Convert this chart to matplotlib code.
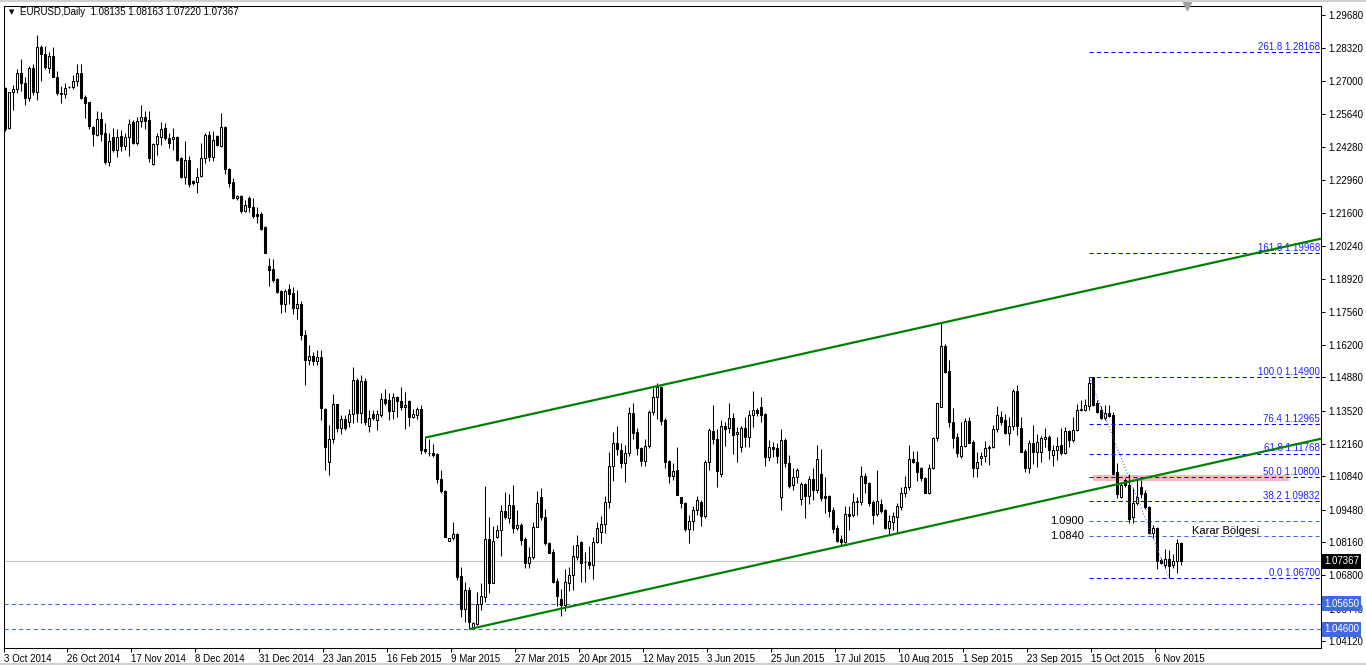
import numpy as np
import matplotlib.pyplot as plt
from matplotlib.lines import Line2D
from matplotlib.patches import Rectangle

plt.rcParams['font.family'] = ['Liberation Sans', 'DejaVu Sans']

# ---- daily candles, EURUSD (bar index = position on chart) ----
opens = [
    1.2669, 1.2508, 1.2652, 1.2665, 1.2730, 1.2689, 1.2628, 1.2750, 1.2655, 1.2839,
    1.2809, 1.2750, 1.2801, 1.2714, 1.2651, 1.2644, 1.2672, 1.2673, 1.2699, 1.2730,
    1.2635, 1.2612, 1.2512, 1.2478, 1.2542, 1.2485, 1.2369, 1.2469, 1.2417, 1.2474,
    1.2435, 1.2471, 1.2530, 1.2447, 1.2535, 1.2550, 1.2539, 1.2358, 1.2440, 1.2471,
    1.2506, 1.2467, 1.2461, 1.2471, 1.2383, 1.2308, 1.2376, 1.2290, 1.2288, 1.2312,
    1.2383, 1.2478, 1.2390, 1.2474, 1.2433, 1.2512, 1.2338, 1.2285, 1.2220, 1.2229,
    1.2169, 1.2222, 1.2182, 1.2156, 1.2156, 1.2104, 1.1943, 1.1930, 1.1889, 1.1839,
    1.1788, 1.1849, 1.1832, 1.1771, 1.1788, 1.1660, 1.1560, 1.1575, 1.1555, 1.1570,
    1.1358, 1.1144, 1.1235, 1.1379, 1.1283, 1.1317, 1.1307, 1.1339, 1.1477, 1.1341,
    1.1475, 1.1291, 1.1337, 1.1314, 1.1334, 1.1398, 1.1396, 1.1352, 1.1407, 1.1393,
    1.1366, 1.1390, 1.1328, 1.1334, 1.1358, 1.1194, 1.1180, 1.1178, 1.1175, 1.1072,
    1.1024, 1.0821, 1.0831, 1.0849, 1.0677, 1.0541, 1.0620, 1.0470, 1.0481, 1.0563,
    1.0593, 1.0827, 1.0650, 1.0835, 1.0865, 1.0944, 1.0913, 1.0967, 1.0872, 1.0885,
    1.0828, 1.0729, 1.0756, 1.0879, 1.0998, 1.0917, 1.0810, 1.0776, 1.0658, 1.0582,
    1.0559, 1.0650, 1.0681, 1.0756, 1.0817, 1.0736, 1.0736, 1.0722, 1.0817, 1.0858,
    1.0888, 1.0981, 1.1126, 1.1219, 1.1192, 1.1140, 1.1181, 1.1341, 1.1264, 1.1198,
    1.1148, 1.1209, 1.1348, 1.1407, 1.1447, 1.1314, 1.1147, 1.1087, 1.1110, 1.0998,
    1.0977, 1.0868, 1.0902, 1.0947, 1.0981, 1.0922, 1.1144, 1.1269, 1.1235, 1.1094,
    1.1290, 1.1280, 1.1321, 1.1256, 1.1205, 1.1280, 1.1243, 1.1334, 1.1355, 1.1369,
    1.1339, 1.1162, 1.1205, 1.1198, 1.1001, 1.1232, 1.1137, 1.1049, 1.1080, 1.0990,
    1.1053, 1.1004, 1.1072, 1.1028, 1.1094, 1.1004, 1.1004, 1.0947, 1.0872, 1.0827,
    1.0817, 1.0929, 1.0926, 1.0978, 1.0978, 1.1086, 1.1058, 1.0981, 1.0929, 1.0971,
    1.0947, 1.0875, 1.0899, 1.0919, 1.0960, 1.1017, 1.1040, 1.1153, 1.1144, 1.1117,
    1.1076, 1.1017, 1.1117, 1.1239, 1.1368, 1.1616, 1.1514, 1.1307, 1.1246, 1.1167,
    1.1208, 1.1310, 1.1225, 1.1117, 1.1161, 1.1167, 1.1198, 1.1202, 1.1276, 1.1327,
    1.1314, 1.1262, 1.1289, 1.1434, 1.1280, 1.1189, 1.1117, 1.1221, 1.1185, 1.1185,
    1.1238, 1.1243, 1.1171, 1.1191, 1.1212, 1.1181, 1.1270, 1.1232, 1.1273, 1.1355,
    1.1355, 1.1371, 1.1488, 1.1382, 1.1357, 1.1321, 1.1341, 1.1334, 1.1103, 1.0998,
    1.1069, 1.1048, 1.0919, 1.0976, 1.1042, 1.1017, 1.0957, 1.0854, 1.0872, 1.0742,
    1.0722, 1.0745, 1.0722, 1.0740, 1.08135,
]
highs = [
    1.2676, 1.2655, 1.2682, 1.2746, 1.2787, 1.2714, 1.2760, 1.2768, 1.2887, 1.2847,
    1.2842, 1.2816, 1.2836, 1.2738, 1.2678, 1.2689, 1.2678, 1.2721, 1.2767, 1.2767,
    1.2640, 1.2612, 1.2515, 1.2578, 1.2572, 1.2529, 1.2485, 1.2506, 1.2503, 1.2499,
    1.2485, 1.2542, 1.2539, 1.2550, 1.2601, 1.2574, 1.2574, 1.2444, 1.2485, 1.2530,
    1.2526, 1.2485, 1.2506, 1.2474, 1.2390, 1.2454, 1.2393, 1.2295, 1.2342, 1.2444,
    1.2485, 1.2496, 1.2496, 1.2478, 1.2567, 1.2515, 1.2342, 1.2301, 1.2233, 1.2231,
    1.2213, 1.2227, 1.2220, 1.2186, 1.2165, 1.2107, 1.1975, 1.1971, 1.1893, 1.1845,
    1.1848, 1.1870, 1.1859, 1.1845, 1.1800, 1.1680, 1.1620, 1.1590, 1.1600, 1.1600,
    1.1365, 1.1294, 1.1420, 1.1379, 1.1334, 1.1334, 1.1358, 1.1532, 1.1484, 1.1498,
    1.1484, 1.1355, 1.1355, 1.1355, 1.1423, 1.1439, 1.1423, 1.1423, 1.1412, 1.1447,
    1.1430, 1.1396, 1.1358, 1.1366, 1.1375, 1.1242, 1.1236, 1.1216, 1.1180, 1.1110,
    1.1028, 1.0833, 1.0899, 1.0851, 1.0715, 1.0654, 1.0631, 1.0491, 1.0613, 1.0650,
    1.1045, 1.0919, 1.0881, 1.0885, 1.0967, 1.1021, 1.1012, 1.1049, 1.0947, 1.0892,
    1.0835, 1.0794, 1.0899, 1.1025, 1.1035, 1.0949, 1.0817, 1.0786, 1.0668, 1.0623,
    1.0704, 1.0715, 1.0804, 1.0844, 1.0821, 1.0776, 1.0800, 1.0838, 1.0899, 1.0922,
    1.1004, 1.1185, 1.1264, 1.1290, 1.1219, 1.1212, 1.1366, 1.1385, 1.1283, 1.1205,
    1.1235, 1.1355, 1.1443, 1.1464, 1.1453, 1.1321, 1.1151, 1.1137, 1.1202, 1.1001,
    1.0981, 1.0926, 1.0963, 1.1004, 1.0988, 1.1151, 1.1280, 1.1375, 1.1276, 1.1314,
    1.1307, 1.1385, 1.1344, 1.1287, 1.1290, 1.1328, 1.1355, 1.1434, 1.1362, 1.1409,
    1.1341, 1.1232, 1.1226, 1.1219, 1.1276, 1.1239, 1.1171, 1.1117, 1.1117, 1.1062,
    1.1058, 1.1086, 1.1117, 1.1212, 1.1194, 1.1080, 1.1008, 1.0958, 1.0885, 1.0845,
    1.0963, 1.0963, 1.1017, 1.1001, 1.1126, 1.1099, 1.1062, 1.0988, 1.1110, 1.0990,
    1.0949, 1.0926, 1.0940, 1.0974, 1.1042, 1.1087, 1.1212, 1.1189, 1.1189, 1.1123,
    1.1083, 1.1134, 1.1243, 1.1385, 1.1710, 1.1624, 1.1559, 1.1362, 1.1262, 1.1307,
    1.1321, 1.1325, 1.1232, 1.1185, 1.1185, 1.1229, 1.1212, 1.1293, 1.1371, 1.1352,
    1.1338, 1.1327, 1.1439, 1.1457, 1.1327, 1.1194, 1.1232, 1.1293, 1.1257, 1.1248,
    1.1280, 1.1253, 1.1212, 1.1243, 1.1280, 1.1284, 1.1273, 1.1325, 1.1379, 1.1396,
    1.1402, 1.1490, 1.1488, 1.1396, 1.1371, 1.1375, 1.1375, 1.1348, 1.1137, 1.1062,
    1.1076, 1.1093, 1.1035, 1.1076, 1.1069, 1.1028, 1.0963, 1.0885, 1.0878, 1.0749,
    1.0786, 1.0783, 1.0769, 1.0827, 1.08163,
]
lows = [
    1.2496, 1.2501, 1.2580, 1.2648, 1.2659, 1.2601, 1.2618, 1.2642, 1.2621, 1.2700,
    1.2746, 1.2730, 1.2714, 1.2642, 1.2610, 1.2631, 1.2669, 1.2665, 1.2678, 1.2624,
    1.2546, 1.2501, 1.2433, 1.2474, 1.2455, 1.2360, 1.2352, 1.2410, 1.2390, 1.2414,
    1.2417, 1.2393, 1.2442, 1.2437, 1.2510, 1.2501, 1.2369, 1.2356, 1.2397, 1.2437,
    1.2458, 1.2424, 1.2417, 1.2373, 1.2301, 1.2277, 1.2267, 1.2274, 1.2243, 1.2308,
    1.2363, 1.2373, 1.2372, 1.2433, 1.2428, 1.2319, 1.2265, 1.2217, 1.2213, 1.2161,
    1.2165, 1.2165, 1.2138, 1.2120, 1.2091, 1.1998, 1.1862, 1.1879, 1.1832, 1.1750,
    1.1757, 1.1788, 1.1747, 1.1726, 1.1640, 1.1457, 1.1539, 1.1539, 1.1539, 1.1314,
    1.1110, 1.1089, 1.1219, 1.1266, 1.1257, 1.1273, 1.1287, 1.1303, 1.1307, 1.1300,
    1.1294, 1.1266, 1.1314, 1.1273, 1.1328, 1.1375, 1.1314, 1.1317, 1.1328, 1.1355,
    1.1276, 1.1289, 1.1321, 1.1317, 1.1175, 1.1181, 1.1167, 1.1164, 1.1055, 1.1017,
    1.0835, 1.0819, 1.0824, 1.0661, 1.0508, 1.0491, 1.0460, 1.0465, 1.0477, 1.0538,
    1.0572, 1.0609, 1.0647, 1.0831, 1.0759, 1.0908, 1.0892, 1.0851, 1.0865, 1.0804,
    1.0708, 1.0708, 1.0745, 1.0876, 1.0906, 1.0804, 1.0770, 1.0650, 1.0555, 1.0514,
    1.0536, 1.0617, 1.0620, 1.0742, 1.0654, 1.0654, 1.0704, 1.0663, 1.0810, 1.0813,
    1.0851, 1.0953, 1.1066, 1.1171, 1.1117, 1.1062, 1.1168, 1.1235, 1.1171, 1.1128,
    1.1128, 1.1198, 1.1334, 1.1317, 1.1294, 1.1117, 1.1058, 1.1069, 1.1008, 1.0953,
    1.0862, 1.0813, 1.0865, 1.0926, 1.0881, 1.0913, 1.1110, 1.1216, 1.1042, 1.1080,
    1.1208, 1.1262, 1.1175, 1.1144, 1.1185, 1.1205, 1.1202, 1.1287, 1.1330, 1.1307,
    1.1126, 1.1148, 1.1164, 1.1137, 1.0947, 1.1121, 1.1035, 1.1028, 1.1058, 1.0967,
    1.0913, 1.0971, 1.0988, 1.1017, 1.0985, 1.0933, 1.0920, 1.0851, 1.0817, 1.0800,
    1.0811, 1.0865, 1.0917, 1.0926, 1.0967, 1.1017, 1.0963, 1.0890, 1.0922, 1.0933,
    1.0868, 1.0845, 1.0865, 1.0851, 1.0946, 1.0998, 1.1028, 1.1140, 1.1066, 1.1066,
    1.1015, 1.1014, 1.1113, 1.1229, 1.1366, 1.1507, 1.1287, 1.1198, 1.1164, 1.1161,
    1.1202, 1.1219, 1.1083, 1.1083, 1.1130, 1.1144, 1.1130, 1.1198, 1.1266, 1.1293,
    1.1257, 1.1212, 1.1273, 1.1253, 1.1183, 1.1103, 1.1099, 1.1134, 1.1123, 1.1144,
    1.1202, 1.1157, 1.1126, 1.1151, 1.1171, 1.1175, 1.1205, 1.1225, 1.1270, 1.1352,
    1.1353, 1.1355, 1.1371, 1.1341, 1.1317, 1.1314, 1.1325, 1.1089, 1.0994, 1.0994,
    1.1042, 1.0892, 1.0895, 1.0967, 1.0994, 1.0949, 1.0848, 1.0831, 1.0704, 1.0726,
    1.0708, 1.0670, 1.0708, 1.0688, 1.07220,
]
closes = [
    1.2501, 1.2655, 1.2665, 1.2730, 1.2689, 1.2628, 1.2750, 1.2655, 1.2836, 1.2809,
    1.2755, 1.2801, 1.2714, 1.2648, 1.2644, 1.2669, 1.2673, 1.2699, 1.2730, 1.2631,
    1.2610, 1.2516, 1.2482, 1.2542, 1.2482, 1.2367, 1.2454, 1.2417, 1.2471, 1.2433,
    1.2471, 1.2522, 1.2447, 1.2535, 1.2550, 1.2537, 1.2386, 1.2440, 1.2474, 1.2503,
    1.2465, 1.2447, 1.2469, 1.2376, 1.2308, 1.2376, 1.2278, 1.2284, 1.2308, 1.2383,
    1.2478, 1.2387, 1.2458, 1.2437, 1.2510, 1.2338, 1.2284, 1.2222, 1.2229, 1.2168,
    1.2192, 1.2186, 1.2149, 1.2149, 1.2095, 1.1998, 1.1927, 1.1884, 1.1836, 1.1788,
    1.1841, 1.1829, 1.1771, 1.1788, 1.1660, 1.1560, 1.1575, 1.1555, 1.1570, 1.1362,
    1.1202, 1.1235, 1.1379, 1.1283, 1.1317, 1.1280, 1.1339, 1.1477, 1.1341, 1.1475,
    1.1307, 1.1321, 1.1321, 1.1337, 1.1398, 1.1385, 1.1352, 1.1407, 1.1393, 1.1366,
    1.1375, 1.1328, 1.1339, 1.1358, 1.1192, 1.1189, 1.1178, 1.1171, 1.1072, 1.1025,
    1.0838, 1.0831, 1.0849, 1.0674, 1.0541, 1.0620, 1.0491, 1.0484, 1.0563, 1.0595,
    1.0827, 1.0650, 1.0820, 1.0865, 1.0944, 1.0917, 1.0967, 1.0872, 1.0885, 1.0824,
    1.0729, 1.0756, 1.0879, 1.0974, 1.0917, 1.0810, 1.0772, 1.0654, 1.0595, 1.0559,
    1.0654, 1.0681, 1.0759, 1.0804, 1.0731, 1.0735, 1.0722, 1.0817, 1.0872, 1.0888,
    1.0981, 1.1126, 1.1219, 1.1194, 1.1140, 1.1181, 1.1341, 1.1262, 1.1198, 1.1148,
    1.1209, 1.1348, 1.1407, 1.1447, 1.1311, 1.1144, 1.1087, 1.1107, 1.1008, 1.0974,
    1.0868, 1.0902, 1.0947, 1.0988, 1.0922, 1.1144, 1.1273, 1.1235, 1.1107, 1.1290,
    1.1279, 1.1321, 1.1253, 1.1264, 1.1280, 1.1243, 1.1334, 1.1355, 1.1344, 1.1334,
    1.1162, 1.1202, 1.1197, 1.1168, 1.1232, 1.1137, 1.1046, 1.1080, 1.1110, 1.1053,
    1.1004, 1.1072, 1.1028, 1.1153, 1.0994, 1.0994, 1.0944, 1.0868, 1.0821, 1.0817,
    1.0929, 1.0922, 1.0978, 1.0983, 1.1086, 1.1056, 1.0977, 1.0926, 1.0983, 1.0944,
    1.0875, 1.0902, 1.0922, 1.0963, 1.1017, 1.1042, 1.1153, 1.1144, 1.1103, 1.1076,
    1.1017, 1.1117, 1.1239, 1.1382, 1.1616, 1.1511, 1.1307, 1.1242, 1.1178, 1.1208,
    1.1310, 1.1221, 1.1117, 1.1144, 1.1168, 1.1198, 1.1205, 1.1276, 1.1334, 1.1307,
    1.1262, 1.1289, 1.1434, 1.1289, 1.1185, 1.1117, 1.1221, 1.1185, 1.1225, 1.1239,
    1.1243, 1.1191, 1.1191, 1.1208, 1.1181, 1.1270, 1.1232, 1.1273, 1.1355, 1.1361,
    1.1375, 1.1466, 1.1375, 1.1348, 1.1321, 1.1341, 1.1330, 1.1093, 1.1014, 1.1048,
    1.1048, 1.0912, 1.0976, 1.1001, 1.1014, 1.0957, 1.0854, 1.0872, 1.0740, 1.0731,
    1.0745, 1.0718, 1.0740, 1.0810, 1.07367,
]

date_labels = ['3 Oct 2014', '26 Oct 2014', '17 Nov 2014', '8 Dec 2014', '31 Dec 2014',
               '23 Jan 2015', '16 Feb 2015', '9 Mar 2015', '27 Mar 2015', '20 Apr 2015',
               '12 May 2015', '3 Jun 2015', '25 Jun 2015', '17 Jul 2015', '10 Aug 2015',
               '1 Sep 2015', '23 Sep 2015', '15 Oct 2015', '6 Nov 2015']
date_bars = [-0.25, 15.5, 31.5, 47.5, 63.5, 79.5, 95.5, 111.5, 127.5, 143.5,
             159.5, 175.5, 191.5, 207.5, 223.5, 239.5, 255.5, 271.5, 287.5]

price_ticks = [1.29680, 1.28320, 1.27000, 1.25640, 1.24280, 1.22960, 1.21600, 1.20240,
               1.18920, 1.17560, 1.16200, 1.14880, 1.13520, 1.12160, 1.10840, 1.09480,
               1.08160, 1.06800, 1.05440, 1.04120]

# channel trend lines: (bar, price) anchors, drawn as rays
upper_line = [(105, 1.1242), (234, 1.1710)]
lower_line = [(116, 1.0460), (205, 1.0785)]

# fibonacci retracement
fib_levels = [0.0, 38.2, 50.0, 61.8, 76.4, 100.0, 161.8, 261.8]
fib_start, fib_high = 271, 1.1490
fib_end, fib_low = 291, 1.0670

support_lines = [1.0565, 1.0460]
marked_levels = [1.0900, 1.0840]
zone_bars = (272, 321)
zone_prices = (1.1066, 1.1090)
last_price = 1.07367

# ---- figure ----
W, H = 1366, 665
fig = plt.figure(figsize=(W / 100, H / 100), dpi=100)
ax = fig.add_axes([4 / W, 17 / H, 1317 / W, 642 / H])
x_right = 329
ax.set_xlim(-0.25, x_right)
ax.set_ylim(1.03833, 1.30047)

o = np.array(opens); h = np.array(highs); l = np.array(lows); c = np.array(closes)
x = np.arange(len(o))
up = c >= o
lo = np.minimum(o, c)
ht = np.abs(c - o)

ax.vlines(x, l, h, color='black', lw=0.75, zorder=3)
ax.bar(x[up], ht[up], bottom=lo[up], width=0.5, color='white', edgecolor='black', lw=0.75, zorder=4)
ax.bar(x[~up], ht[~up], bottom=lo[~up], width=0.5, color='black', edgecolor='black', lw=0.75, zorder=4)

dash = (0, (4, 3))
blue = '#0000ff'
royal = '#3f6ae6'

# decision zone
ax.add_patch(Rectangle((zone_bars[0], zone_prices[0]), zone_bars[1] - zone_bars[0],
                       zone_prices[1] - zone_prices[0], facecolor='#f9b7c0', edgecolor='none', zorder=1))

ax.axhline(last_price, color='#c0c0c0', lw=0.75, zorder=1)
for p in support_lines:
    ax.axhline(p, color=royal, lw=0.75, ls=dash, zorder=2)

for p in marked_levels:
    ax.hlines(p, fib_start, x_right, color=royal, lw=0.75, ls=dash, zorder=2)
    ax.text(fib_start - 1.2, p, f'{p:.4f}', ha='right', va='center', fontsize=8, color='black')

ax.text(296.8, 1.0861, 'Karar Bölgesi', ha='left', va='center', fontsize=8, color='black')

# fibonacci
for lv in fib_levels:
    p = fib_low + (fib_high - fib_low) * lv / 100
    ax.hlines(p, fib_start, x_right, color=blue, lw=0.75, ls=dash, zorder=5)
    ax.text(x_right - 0.3, p + 0.0001, f'{lv:.1f} {p:.5f}', ha='right', va='bottom',
            fontsize=7, color='#2020ff', zorder=6)
ax.plot([fib_start, fib_end], [fib_high, fib_low], color=royal, lw=0.75, ls=(0, (1, 2)), zorder=5)

# channel rays
for (x0, y0), (x1, y1) in (upper_line, lower_line):
    slope = (y1 - y0) / (x1 - x0)
    ax.plot([x0, x_right], [y0, y0 + slope * (x_right - x0)], color='#008000', lw=1.6,
            zorder=6, solid_capstyle='butt')

# price axis
ax.yaxis.tick_right()
ax.set_yticks(price_ticks)
ax.set_yticklabels([f'{p:.5f}' for p in price_ticks])
ax.tick_params(axis='y', direction='out', length=3, width=0.75, pad=2, labelsize=7)

ax.set_xticks(date_bars)
ax.set_xticklabels(date_labels)
ax.tick_params(axis='x', direction='out', length=3, width=0.75, pad=1, labelsize=7)
for t in ax.get_xticklabels():
    t.set_ha('left')

for s in ax.spines.values():
    s.set_linewidth(0.75)
    s.set_color('black')

# boxed labels on the price axis
for p in support_lines:
    ax.annotate(f'{p:.5f}', xy=(1, p), xycoords=('axes fraction', 'data'), xytext=(2.2, 0),
                textcoords='offset points', ha='left', va='center', fontsize=7, color='white',
                bbox=dict(boxstyle='square,pad=0.25', fc='#4169e1', ec='none'), annotation_clip=False)
ax.annotate(f'{last_price:.5f}', xy=(1, last_price), xycoords=('axes fraction', 'data'), xytext=(2.2, 0),
            textcoords='offset points', ha='left', va='center', fontsize=7, color='white',
            bbox=dict(boxstyle='square,pad=0.25', fc='black', ec='none'), annotation_clip=False)

# chart shift marker
ax.plot([295.5], [1.30047], marker='v', ms=6, color='#a0a0a0', clip_on=False, zorder=7)

# header
fig.text(9 / W, 1 - 12 / H, '▼', fontsize=5, va='center', ha='left', family='DejaVu Sans')
fig.text(20 / W, 1 - 12 / H, 'EURUSD,Daily  1.08135 1.08163 1.07220 1.07367', fontsize=7,
         va='center', ha='left', color='black')

fig.add_artist(Line2D([0, 1], [1 / H, 1 / H], color='#d0d0d0', lw=1.5))
fig.add_artist(Line2D([0, 1], [1 - 1 / H, 1 - 1 / H], color='#d0d0d0', lw=1.5))

fig.savefig('out.png', dpi=100)
